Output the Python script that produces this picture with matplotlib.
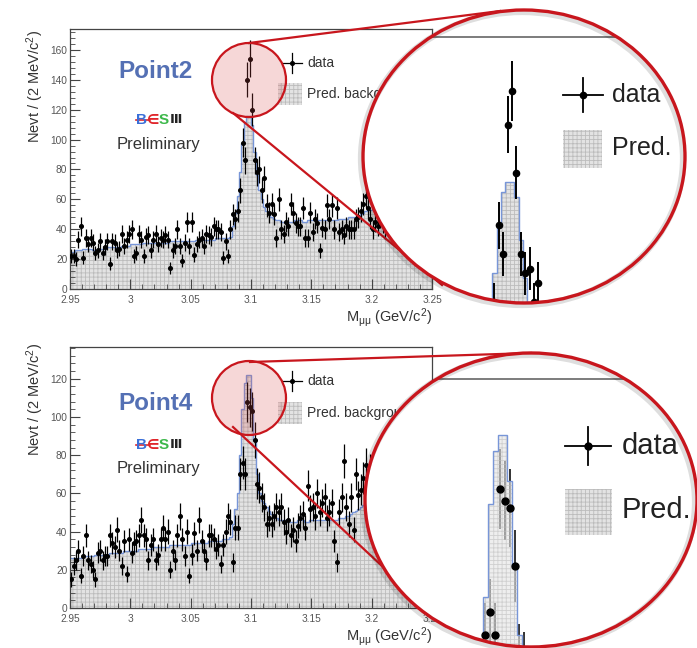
import numpy as np
import matplotlib.pyplot as plt
from matplotlib.patches import Ellipse, Rectangle
from matplotlib.lines import Line2D
from matplotlib.ticker import MultipleLocator, AutoMinorLocator, FuncFormatter

plt.rcParams['font.family'] = ['Liberation Sans', 'DejaVu Sans']
plt.rcParams['mathtext.fontset'] = 'custom'
plt.rcParams['mathtext.rm'] = 'Liberation Sans'
plt.rcParams['mathtext.it'] = 'Liberation Sans:italic'
plt.rcParams['hatch.linewidth'] = 0.6

# 2 MeV bins from 2.95 to 3.25 GeV
bin_edges = np.linspace(2.95, 3.25, 151)
bin_centers = 0.5 * (bin_edges[:-1] + bin_edges[1:])

# Point2 (upper panel)
top_data = [22, 22, 20, 33, 42, 21, 34, 30, 34, 31,
            24, 26, 32, 24, 28, 32, 17, 32, 31, 26,
            27, 37, 29, 33, 37, 40, 22, 24, 37, 33,
            22, 35, 36, 26, 33, 37, 30, 34, 33, 36,
            33, 14, 26, 29, 40, 29, 19, 31, 45, 29,
            45, 23, 30, 33, 34, 29, 37, 36, 35, 42,
            40, 40, 38, 21, 32, 22, 40, 50, 47, 52,
            66, 98, 86, 140, 154, 120, 86, 78, 80, 66,
            74, 56, 51, 57, 50, 34, 60, 40, 37, 45,
            42, 57, 51, 44, 42, 42, 54, 34, 34, 51,
            38, 47, 44, 26, 41, 40, 56, 47, 56, 40,
            54, 38, 40, 36, 42, 40, 40, 40, 47, 48,
            52, 57, 62, 54, 47, 40, 45, 42, 48, 44,
            40, 46, 43, 39, 45, 41, 38, 44, 40, 37,
            42, 39, 36, 40, 38, 35, 39, 37, 34, 36]
top_bkg = [25, 25, 26, 26, 26, 27, 27, 27, 27, 26,
           26, 26, 27, 27, 27, 28, 28, 28, 28, 28,
           28, 29, 29, 29, 29, 30, 30, 30, 30, 30,
           31, 31, 31, 31, 31, 31, 31, 31, 31, 31,
           31, 32, 32, 32, 32, 32, 32, 32, 32, 32,
           32, 32, 33, 33, 33, 33, 33, 33, 33, 33,
           34, 34, 34, 34, 34, 34, 35, 42, 51, 62,
           78, 98, 112, 116, 116, 110, 92, 76, 66, 60,
           55, 52, 50, 48, 47, 46, 46, 45, 45, 45,
           45, 45, 45, 46, 46, 46, 45, 45, 46, 46,
           46, 46, 46, 46, 46, 46, 46, 46, 46, 46,
           46, 47, 47, 47, 47, 48, 48, 48, 48, 49,
           50, 51, 52, 53, 53, 54, 54, 53, 52, 52,
           51, 50, 50, 49, 48, 48, 47, 46, 46, 45,
           44, 44, 43, 42, 42, 41, 40, 40, 39, 39]

# Point4 (lower panel)
bot_data = [15, 22, 25, 30, 17, 27, 38, 25, 23, 20,
            15, 29, 30, 25, 27, 27, 38, 34, 32, 41,
            30, 22, 35, 18, 36, 29, 34, 35, 38, 46,
            38, 36, 25, 33, 36, 25, 28, 36, 42, 36,
            40, 20, 30, 25, 38, 48, 36, 27, 40, 17,
            28, 39, 30, 46, 35, 30, 25, 38, 38, 36,
            31, 33, 23, 33, 40, 48, 45, 24, 42, 42,
            70, 76, 70, 108, 105, 103, 88, 65, 63, 58,
            53, 44, 47, 44, 48, 53, 50, 53, 45, 40,
            46, 38, 41, 35, 43, 47, 49, 42, 64, 52,
            53, 48, 60, 50, 55, 58, 47, 50, 55, 35,
            24, 50, 58, 77, 53, 44, 58, 41, 70, 59,
            62, 68, 75, 66, 72, 64, 70, 68, 62, 71,
            65, 60, 67, 63, 58, 64, 60, 56, 62, 58,
            55, 60, 57, 53, 58, 55, 52, 56, 54, 51]
bot_bkg = [26, 26, 26, 26, 26, 27, 27, 27, 27, 27,
           28, 28, 28, 28, 28, 28, 29, 29, 29, 29,
           29, 29, 30, 30, 30, 30, 30, 30, 31, 31,
           31, 31, 31, 31, 32, 32, 32, 32, 32, 32,
           32, 33, 33, 33, 33, 33, 33, 33, 33, 33,
           34, 34, 34, 34, 34, 34, 34, 35, 35, 35,
           35, 35, 35, 36, 36, 36, 37, 44, 52, 60,
           80, 104, 118, 122, 122, 110, 88, 70, 60, 56,
           55, 53, 51, 49, 48, 47, 46, 46, 46, 46,
           45, 45, 45, 45, 46, 46, 46, 45, 45, 46,
           46, 46, 46, 46, 46, 46, 46, 46, 46, 46,
           46, 47, 47, 47, 48, 48, 49, 50, 51, 52,
           53, 54, 55, 55, 56, 56, 55, 55, 54, 54,
           53, 53, 52, 52, 51, 51, 50, 50, 49, 49,
           48, 48, 47, 47, 46, 46, 45, 45, 44, 44]

W, H = 697, 648
RED = '#c8161d'
BLUE = '#7896d8'
FILL = '#e3e3e3'
DOTS = '#bcbcbc'

fig = plt.figure(figsize=(W / 100, H / 100), dpi=100)


def fp(x, y):
    # pixel position -> figure fraction
    return x / W, 1 - y / H


def hist(ax, bkg, z=1, alpha=1.0):
    ax.stairs(bkg, bin_edges, fill=True, facecolor=FILL, edgecolor='none', lw=0, zorder=z, alpha=alpha)
    ax.stairs(bkg, bin_edges, fill=True, facecolor='none', edgecolor=DOTS, hatch='++++', lw=0,
              zorder=z, alpha=alpha)
    ax.stairs(bkg, bin_edges, baseline=None, color=BLUE, lw=1.0, zorder=z + 0.5)


def main_panel(y_top, y_bot, ymax, data, bkg):
    ax = fig.add_axes([70 / W, 1 - y_bot / H, 362 / W, (y_bot - y_top) / H])
    ax.set_zorder(0)
    hist(ax, bkg)
    d = np.array(data, float)
    ax.errorbar(bin_centers, d, yerr=np.sqrt(d), fmt='o', ms=2.6, color='black',
                elinewidth=0.9, capsize=0, zorder=3)
    ax.set_xlim(2.95, 3.25)
    ax.set_ylim(0, ymax)
    ax.xaxis.set_major_locator(MultipleLocator(0.05))
    ax.xaxis.set_minor_locator(AutoMinorLocator(5))
    ax.yaxis.set_major_locator(MultipleLocator(20))
    ax.yaxis.set_minor_locator(AutoMinorLocator(5))
    ax.xaxis.set_major_formatter(FuncFormatter(lambda v, p: f'{v:g}'))
    ax.tick_params(which='both', direction='in', labelsize=7.3, labelcolor='#555', color='#444', pad=2)
    ax.tick_params(axis='x', which='both', pad=4)
    ax.tick_params(which='major', length=7)
    ax.tick_params(which='minor', length=3.5)
    for s in ax.spines.values():
        s.set_color('#444')
        s.set_linewidth(0.9)
    return ax


def panel_text(name, y_name, y_logo, y_prel, y_data, y_pred, y_lab, y_xlab):
    z = 1
    fig.text(*fp(155, y_name), name, color='#5470b4', fontsize=17.5, fontweight='bold',
             ha='center', va='center', zorder=z)
    # BESIII logo, letter by letter
    for xp, ch, col, fs in [(136, 'B', '#3a6fd8', 11), (147, '\u2208', '#e0262b', 10),
                            (159, 'S', '#3cb84a', 11), (169.5, '\u2162', '#222222', 9.5)]:
        fig.text(*fp(xp, y_logo), ch, color=col, fontsize=fs, fontweight='bold',
                 ha='left', va='center', zorder=z, family=['Liberation Sans', 'DejaVu Sans'])
    fig.add_artist(Line2D([136 / W, 150 / W], [1 - y_logo / H] * 2, color='#e0262b', lw=1.2, zorder=z))
    fig.text(*fp(158, y_prel), 'Preliminary', color='#333', fontsize=12, ha='center', va='center', zorder=z)
    # legend
    fig.add_artist(Line2D([283 / W, 302 / W], [1 - y_data / H] * 2, color='black', lw=0.9, zorder=z))
    fig.add_artist(Line2D([292 / W] * 2, [1 - (y_data - 10) / H, 1 - (y_data + 10) / H],
                          color='black', lw=0.9, zorder=z))
    fig.add_artist(Line2D([292 / W], [1 - y_data / H], marker='o', ms=2.6, color='black', zorder=z))
    fig.text(*fp(307, y_data), 'data', fontsize=10, color='#333', ha='left', va='center', zorder=z)
    for h, fc, ec in [(None, FILL, 'none'), ('++++', 'none', DOTS)]:
        fig.add_artist(Rectangle(fp(278, y_pred + 11), 24 / W, 22 / H, facecolor=fc, edgecolor=ec,
                                 hatch=h, lw=0, zorder=z))
    fig.text(*fp(307, y_pred), 'Pred. background', fontsize=10, color='#333', ha='left',
             va='center', zorder=z)
    fig.text(*fp(35, y_lab), r'Nevt / (2 MeV/c$^{2}$)', rotation=90, fontsize=10.5, color='#333',
             ha='center', va='top', zorder=z)
    fig.text(*fp(432, y_xlab), r'M$_{\mathregular{μμ}}$ (GeV/c$^{2}$)', fontsize=10.5, color='#333',
             ha='right', va='center', zorder=z)


def magnifier(cx, cy, rx, ry, anchor_px, anchor_val, scale, data, bkg, frame_py,
              cross, box, txt_x, txt_y, fs, ms, hist_over):
    ax = fig.add_axes([(cx - rx) / W, 1 - (cy + ry) / H, 2 * rx / W, 2 * ry / H])
    ax.set_zorder(5)
    ax.set_axis_off()
    clip = Ellipse((0.5, 0.5), 1, 1, transform=ax.transAxes, facecolor='white',
                   edgecolor='none', zorder=0)
    ax.add_patch(clip)
    (apx, apy), (x0, v0), (sx, sy) = anchor_px, anchor_val, scale
    d = np.array(data, float)
    if hist_over:
        ax.errorbar(bin_centers, d, yerr=np.sqrt(d), fmt='none', ecolor='#333',
                    elinewidth=1.4, capsize=0, zorder=2)
        hist(ax, bkg, z=3, alpha=0.6)
        ax.plot(bin_centers, d, 'o', ms=ms, color='black', zorder=4)
    else:
        hist(ax, bkg, z=1)
        ax.errorbar(bin_centers, d, yerr=np.sqrt(d), fmt='o', ms=ms, color='black',
                    elinewidth=1.4, capsize=0, zorder=3)
    tf = fig.transFigure
    ax.add_line(Line2D([(cx - rx) / W, (cx + rx) / W], [1 - frame_py / H] * 2,
                       transform=tf, color='#666', lw=1.2, zorder=5))
    (ccx, ccy, hw, hh) = cross
    ax.add_line(Line2D([(ccx - hw) / W, (ccx + hw) / W], [1 - ccy / H] * 2, transform=tf,
                       color='black', lw=1.3, zorder=5))
    ax.add_line(Line2D([ccx / W] * 2, [1 - (ccy - hh) / H, 1 - (ccy + hh) / H], transform=tf,
                       color='black', lw=1.3, zorder=5))
    ax.add_line(Line2D([ccx / W], [1 - ccy / H], transform=tf, marker='o', ms=ms,
                       color='black', zorder=5))
    (bx0, by0, bx1, by1) = box
    for h, fc, ec in [(None, FILL, 'none'), ('++++', 'none', DOTS)]:
        ax.add_patch(Rectangle(fp(bx0, by1), (bx1 - bx0) / W, (by1 - by0) / H, transform=tf,
                               facecolor=fc, edgecolor=ec, hatch=h, lw=0, zorder=5))
    t1 = ax.text(*fp(txt_x, txt_y[0]), 'data', transform=tf, fontsize=fs, color='#222',
                 ha='left', va='center', zorder=6)
    t2 = ax.text(*fp(txt_x, txt_y[1]), 'Pred.', transform=tf, fontsize=fs, color='#222',
                 ha='left', va='center', zorder=6)
    for art in ax.lines + ax.collections + ax.patches + [t1, t2]:
        if art is not clip:
            art.set_clip_path(clip)
    ax.set_xlim(x0 - (apx - (cx - rx)) / sx, x0 + ((cx + rx) - apx) / sx)
    ax.set_ylim(v0 - ((cy + ry) - apy) / sy, v0 + (apy - (cy - ry)) / sy)
    # soft shadow, offset towards lower left
    ax.add_patch(Ellipse((0.5 - 2 / (2 * rx), 0.5 - 2 / (2 * ry)), 1.0, 1.0, transform=ax.transAxes,
                         fill=False, edgecolor=(0, 0, 0, 0.13), lw=4.5, zorder=19, clip_on=False))
    ax.add_patch(Ellipse((0.5, 0.5), 1, 1, transform=ax.transAxes, fill=False,
                         edgecolor=RED, lw=2.4, zorder=20, clip_on=False))
    return ax


def zoom_spot(cx, cy, r, lines):
    fig.add_artist(Ellipse(fp(cx, cy), 2 * r / W, 2 * r / H, facecolor=(0.85, 0.3, 0.3, 0.22),
                           edgecolor=RED, lw=1.6, zorder=2))
    for (xa, ya), (xb, yb) in lines:
        fig.add_artist(Line2D([xa / W, xb / W], [1 - ya / H, 1 - yb / H], color=RED, lw=1.6, zorder=3))


# upper panel
main_panel(29, 289, 174, top_data, top_bkg)
panel_text('Point2', 72, 120, 144, 63, 94, 30, 318)
zoom_spot(249, 80, 37, [((249, 43), (500, 11)), ((233, 113), (442, 285))])
magnifier(524, 156.5, 161, 146.5, (512, 91), (3.099, 154), (2200, 2.4), top_data, top_bkg, 37,
          (583, 95, 20, 17), (563, 130, 602, 168), 612, (95, 148), 18, 4.5, False)

# lower panel
main_panel(347, 608, 136.6, bot_data, bot_bkg)
panel_text('Point4', 403, 445, 468, 381, 413, 343, 637)
zoom_spot(249, 398, 37, [((250, 362), (531, 353)), ((233, 427), (442, 622))])
magnifier(531, 500, 166, 147, (500, 489), (3.097, 108), (2417, 3.85), bot_data, bot_bkg, 379,
          (588, 446, 23, 19), (565, 489, 612, 535), 622, (446, 510), 21, 5, True)

fig.savefig('out.png', dpi=100)
